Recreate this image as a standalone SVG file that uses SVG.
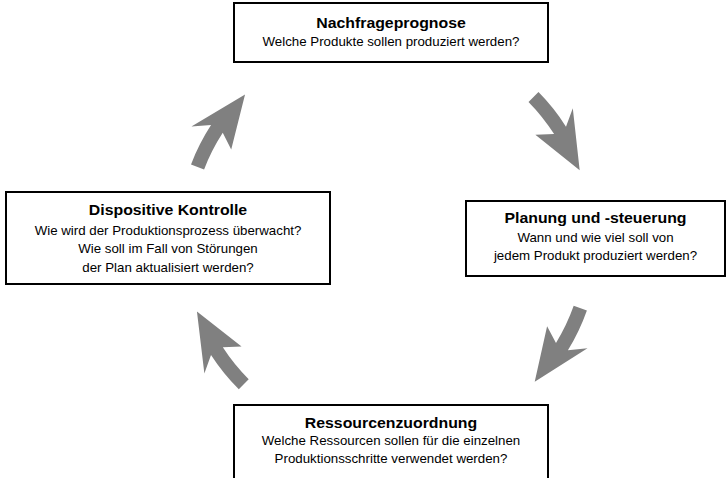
<svg xmlns="http://www.w3.org/2000/svg" width="727" height="478" viewBox="0 0 727 478">
  <style>
    .box { fill: #ffffff; stroke: #000000; stroke-width: 2; }
    text { font-family: "Liberation Sans", Arial, Helvetica, sans-serif; fill: #000000; text-anchor: middle; }
    .title { font-size: 14.4px; font-weight: bold; }
    .sub { font-size: 12.1px; }
    .arrow { fill: #808080; stroke: none; }
  </style>
  <defs>
    <!-- curved arrow on a circle of radius 204 around the origin, tail at 0deg, tip at 24.5deg -->
    <path id="arc-arrow" class="arrow" d="M211,0 A211,211 0 0 1 206.4,43.9 L224.2,35.5 L185.6,84.6 L178.8,28.3 L192.7,40.9 A197,197 0 0 0 197,0 Z"/>
  </defs>

  <rect width="727" height="478" fill="#ffffff"/>

  <g id="connectors">
    <use href="#arc-arrow" transform="translate(388,240) rotate(201)"/>
    <use href="#arc-arrow" transform="translate(388,240) rotate(315.5)"/>
    <use href="#arc-arrow" transform="translate(388,240) rotate(19.5)"/>
    <use href="#arc-arrow" transform="translate(388,240) rotate(135)"/>
  </g>

  <g id="nachfrageprognose">
    <rect class="box" x="234" y="3" width="314" height="59"/>
    <g transform="translate(391,0) scale(1.1,1)">
      <text class="title" x="0" y="28">Nachfrageprognose</text>
      <text class="sub" x="0" y="46.5">Welche Produkte sollen produziert werden?</text>
    </g>
  </g>

  <g id="planung">
    <rect class="box" x="466" y="201" width="259" height="75"/>
    <g transform="translate(595.5,0) scale(1.1,1)">
      <text class="title" x="0" y="223">Planung und -steuerung</text>
      <text class="sub" x="0" y="242">Wann und wie viel soll von</text>
      <text class="sub" x="0" y="260.5">jedem Produkt produziert werden?</text>
    </g>
  </g>

  <g id="ressourcenzuordnung">
    <rect class="box" x="234" y="405" width="314" height="90"/>
    <g transform="translate(391,0) scale(1.1,1)">
      <text class="title" x="0" y="428">Ressourcenzuordnung</text>
      <text class="sub" x="0" y="445">Welche Ressourcen sollen für die einzelnen</text>
      <text class="sub" x="0" y="463">Produktionsschritte verwendet werden?</text>
    </g>
  </g>

  <g id="kontrolle">
    <rect class="box" x="6" y="192" width="324" height="92"/>
    <g transform="translate(168,0) scale(1.1,1)">
      <text class="title" x="0" y="215.5">Dispositive Kontrolle</text>
      <text class="sub" x="0" y="235">Wie wird der Produktionsprozess überwacht?</text>
      <text class="sub" x="0" y="253.5">Wie soll im Fall von Störungen</text>
      <text class="sub" x="0" y="272">der Plan aktualisiert werden?</text>
    </g>
  </g>
</svg>
